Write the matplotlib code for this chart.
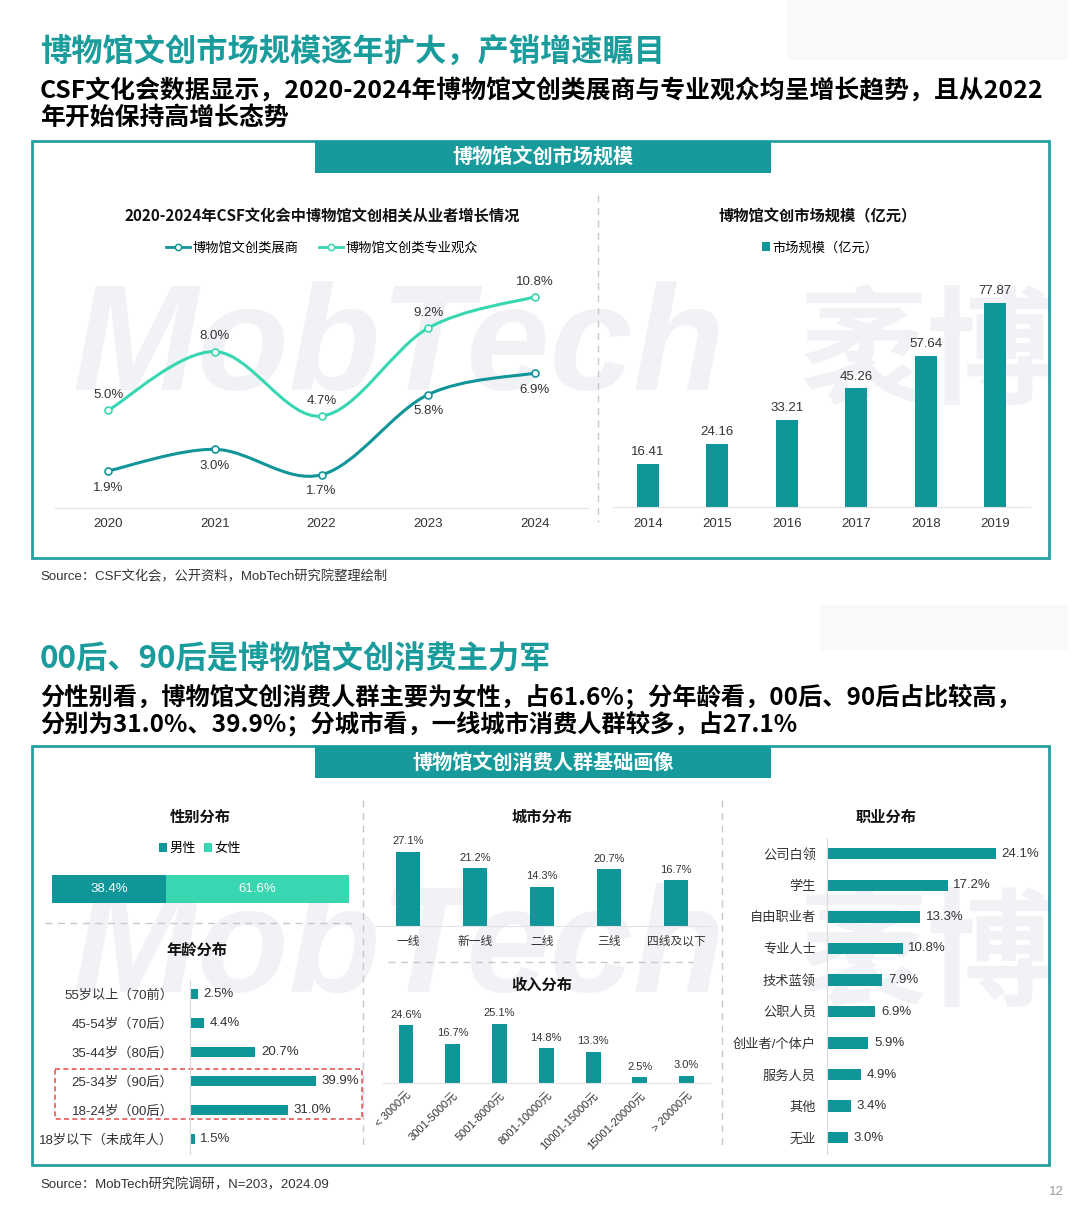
import matplotlib
matplotlib.use('Agg')
import matplotlib.pyplot as plt
from matplotlib.path import Path
from matplotlib.patches import PathPatch, Rectangle
from matplotlib.lines import Line2D
import numpy as np

plt.rcParams['font.family'] = ['Liberation Sans', 'Noto Sans CJK SC', 'DejaVu Sans']

# ---- data ----
years_line = ['2020', '2021', '2022', '2023', '2024']
exhibitors = [1.9, 3.0, 1.7, 5.8, 6.9]
visitors = [5.0, 8.0, 4.7, 9.2, 10.8]
line_names = ['博物馆文创类展商', '博物馆文创类专业观众']

years_bar = ['2014', '2015', '2016', '2017', '2018', '2019']
market = [16.41, 24.16, 33.21, 45.26, 57.64, 77.87]

gender_labels = ['男性', '女性']
gender_share = [38.4, 61.6]

age_labels = ['55岁以上（70前）', '45-54岁（70后）', '35-44岁（80后）',
              '25-34岁（90后）', '18-24岁（00后）', '18岁以下（未成年人）']
age_share = [2.5, 4.4, 20.7, 39.9, 31.0, 1.5]

city_labels = ['一线', '新一线', '二线', '三线', '四线及以下']
city_share = [27.1, 21.2, 14.3, 20.7, 16.7]

income_labels = ['< 3000元', '3001-5000元', '5001-8000元', '8001-10000元',
                 '10001-15000元', '15001-20000元', '> 20000元']
income_share = [24.6, 16.7, 25.1, 14.8, 13.3, 2.5, 3.0]

job_labels = ['公司白领', '学生', '自由职业者', '专业人士', '技术蓝领',
              '公职人员', '创业者/个体户', '服务人员', '其他', '无业']
job_share = [24.1, 17.2, 13.3, 10.8, 7.9, 6.9, 5.9, 4.9, 3.4, 3.0]

DARK = '#109599'
LIGHT = '#38D7B1'
TEAL = '#1A9C9C'
FRAME = '#22A1A1'
GRID = '#D9D9D9'
TXT = '#333333'
CJK = ['Noto Sans CJK SC']

W, H = 1080, 1214
fig = plt.figure(figsize=(W / 100, H / 100), dpi=100)

bg = fig.add_axes([0, 0, 1, 1])
bg.set_xlim(0, W)
bg.set_ylim(H, 0)
bg.axis('off')


def add_ax(x0, y0, x1, y1):
    ax = fig.add_axes([x0 / W, 1 - y1 / H, (x1 - x0) / W, (y1 - y0) / H])
    ax.patch.set_alpha(0)
    for s in ax.spines.values():
        s.set_visible(False)
    return ax


def smooth_path(xs, ys):
    pts = np.column_stack([xs, ys]).astype(float)
    ext = np.vstack([pts[0], pts, pts[-1]])
    verts, codes = [pts[0]], [Path.MOVETO]
    for i in range(len(pts) - 1):
        p0, p1, p2, p3 = ext[i], ext[i + 1], ext[i + 2], ext[i + 3]
        verts += [p1 + (p2 - p0) / 6, p2 - (p3 - p1) / 6, p2]
        codes += [Path.CURVE4] * 3
    return Path(verts, codes)


def fig_xy(x, y):
    return (x / W, 1 - y / H)


# ---- watermark ----
wm = '#F1F2F5'
for y in (390, 992):
    bg.text(72, y, 'MobTech', fontsize=108, fontweight='bold', style='italic',
            color=wm, va='baseline', ha='left', zorder=0)
    bg.text(800, y + 4, '袤博', fontsize=92, fontweight='bold', family=CJK,
            color=wm, va='baseline', ha='left', zorder=0)

# faint scan artifacts at top right
bg.add_patch(Rectangle((787, 0), 281, 60, color='#F9F9F9', lw=0, zorder=0))
bg.add_patch(Rectangle((820, 605), 248, 45, color='#F9F9F9', lw=0, zorder=0))

# ---- headings ----
bg.text(40, 52, '博物馆文创市场规模逐年扩大，产销增速瞩目', fontsize=22.5,
        fontweight='bold', color=TEAL, family=CJK, va='center')
bg.text(40, 90, 'CSF文化会数据显示，2020-2024年博物馆文创类展商与专业观众均呈增长趋势，且从2022',
        fontsize=17.9, fontweight='bold', color='black', family=CJK, va='center')
bg.text(40, 118, '年开始保持高增长态势', fontsize=17.9, fontweight='bold',
        color='black', family=CJK, va='center')

bg.text(40, 658, '00后、90后是博物馆文创消费主力军', fontsize=22.5,
        fontweight='bold', color=TEAL, family=CJK, va='center')
bg.text(40, 697, '分性别看，博物馆文创消费人群主要为女性，占61.6%；分年龄看，00后、90后占比较高，',
        fontsize=17.5, fontweight='bold', color='black', family=CJK, va='center')
bg.text(40, 724, '分别为31.0%、39.9%；分城市看，一线城市消费人群较多，占27.1%',
        fontsize=17.5, fontweight='bold', color='black', family=CJK, va='center')

# ---- frames, banners, separators ----
for top, bottom, title in [(141, 558, '博物馆文创市场规模'),
                           (746, 1165, '博物馆文创消费人群基础画像')]:
    bg.add_patch(Rectangle((32, top), 1017, bottom - top, fill=False,
                           edgecolor=FRAME, lw=2, zorder=1))
    bg.add_patch(Rectangle((315, top), 456, 32, color='#169A9B', lw=0, zorder=1))
    bg.text(543, top + 16, title, fontsize=14.5, fontweight='bold', color='white',
            family=CJK, ha='center', va='center', zorder=2)

dash = dict(color='#C8C8C8', lw=1, ls=(0, (5, 4)), zorder=1)
bg.plot([598, 598], [195, 522], **dash)
bg.plot([363, 363], [800, 1150], **dash)
bg.plot([722, 722], [800, 1150], **dash)
bg.plot([45, 352], [923, 923], **dash)
bg.plot([388, 693], [962, 962], **dash)
bg.add_patch(Rectangle((55, 1069), 307, 50, fill=False, edgecolor='#E05A5A',
                       lw=1.2, ls=(0, (3, 2)), zorder=1))

bg.text(40, 577, 'Source：CSF文化会，公开资料，MobTech研究院整理绘制',
        fontsize=9.5, color=TXT, va='center')
bg.text(40, 1185, 'Source：MobTech研究院调研，N=203，2024.09',
        fontsize=9.5, color=TXT, va='center')
bg.text(1056, 1192, '12', fontsize=9.5, color='#999999', ha='center', va='center')

# sub-chart titles
for x, y, s in [(322, 216, '2020-2024年CSF文化会中博物馆文创相关从业者增长情况'),
                (818, 216, '博物馆文创市场规模（亿元）'),
                (200, 817, '性别分布'), (197, 950, '年龄分布'),
                (542, 817, '城市分布'), (542, 985, '收入分布'),
                (886, 817, '职业分布')]:
    bg.text(x, y, s, fontsize=11, fontweight='bold', family=CJK, color='#111111',
            ha='center', va='center')

# ---- line chart ----
ax1 = add_ax(55, 280, 588, 508)
x = np.arange(len(years_line))
for vals, col, off in [(exhibitors, DARK, -12), (visitors, LIGHT, 11)]:
    ax1.add_patch(PathPatch(smooth_path(x, vals), fill=False, edgecolor=col,
                            lw=2.2, capstyle='round'))
    ax1.plot(x, vals, 'o', ms=5, mfc='white', mec=col, mew=1.2, zorder=3)
    for xi, v in zip(x, vals):
        ax1.annotate(f'{v:.1f}%', (xi, v), xytext=(0, off), textcoords='offset points',
                     ha='center', va='center', fontsize=9.5, color=TXT)
ax1.set_xlim(-0.5, 4.5)
ax1.set_ylim(0, 11.66)
ax1.set_xticks(x, labels=years_line)
ax1.set_yticks([])
ax1.spines['bottom'].set_visible(True)
ax1.spines['bottom'].set_color('#E3E3E3')
ax1.tick_params(axis='x', length=0, pad=7.5, labelsize=9.5, labelcolor=TXT)
handles = [Line2D([], [], color=c, lw=2, marker='o', ms=4.5, mfc='white', mec=c, mew=1.1)
           for c in (DARK, LIGHT)]
fig.legend(handles, line_names, loc='center', bbox_to_anchor=fig_xy(322, 248),
           ncol=2, frameon=False, fontsize=9.5, handlelength=1.8,
           handletextpad=0.2, columnspacing=1.6)

# ---- market size bars ----
ax2 = add_ax(613, 280, 1030, 507)
xb = np.arange(len(years_bar))
bars = ax2.bar(xb, market, width=0.32, color=DARK, label='市场规模（亿元）')
ax2.bar_label(bars, fmt='%.2f', padding=4, fontsize=9.5, color=TXT)
ax2.set_xlim(-0.5, 5.5)
ax2.set_ylim(0, 86.6)
ax2.set_xticks(xb, labels=years_bar)
ax2.set_yticks([])
ax2.spines['bottom'].set_visible(True)
ax2.spines['bottom'].set_color('#E3E3E3')
ax2.tick_params(axis='x', length=0, pad=8, labelsize=9.5, labelcolor=TXT)
fig.legend(handles=[bars], loc='center', bbox_to_anchor=fig_xy(820, 248),
           frameon=False, fontsize=9.5, handlelength=0.6, handleheight=0.6,
           handletextpad=0.2)

# ---- gender ----
ax3 = add_ax(52, 875, 349, 903)
left = 0
gh = []
for lab, v, c in zip(gender_labels, gender_share, (DARK, LIGHT)):
    r = ax3.barh(0, v, left=left, height=1, color=c, label=lab)
    ax3.bar_label(r, labels=[f'{v:.1f}%'], label_type='center', color='white', fontsize=9.5)
    gh.append(r)
    left += v
ax3.set_xlim(0, 100)
ax3.set_ylim(-0.5, 0.5)
ax3.axis('off')
fig.legend(handles=gh, loc='center', bbox_to_anchor=fig_xy(200, 849), ncol=2,
           frameon=False, fontsize=9.5, handlelength=0.6, handleheight=0.6,
           handletextpad=0.2, columnspacing=0.6)


def hbars(ax, labels, vals, xmax, pad):
    yy = np.arange(len(labels))
    r = ax.barh(yy, vals, height=0.36, color=DARK)
    ax.bar_label(r, labels=[f'{v:.1f}%' for v in vals], padding=4, fontsize=9.5, color=TXT)
    ax.set_ylim(len(labels) - 0.5, -0.5)
    ax.set_xlim(0, xmax)
    ax.set_yticks(yy, labels=labels)
    ax.set_xticks([])
    ax.spines['left'].set_visible(True)
    ax.spines['left'].set_color(GRID)
    ax.tick_params(axis='y', length=0, pad=pad, labelsize=9.5, labelcolor=TXT)


# ---- age ----
ax4 = add_ax(190, 979.5, 362, 1153.5)
hbars(ax4, age_labels, age_share, 54.4, 12)

# ---- occupation ----
ax7 = add_ax(827, 838, 1045, 1153.5)
hbars(ax7, job_labels, job_share, 31.1, 8)


def vbars(ax, labels, vals, width, ymax):
    xx = np.arange(len(labels))
    r = ax.bar(xx, vals, width=width, color=DARK)
    ax.bar_label(r, labels=[f'{v:.1f}%' for v in vals], padding=4, fontsize=8, color=TXT)
    ax.set_xlim(-0.5, len(labels) - 0.5)
    ax.set_ylim(0, ymax)
    ax.set_yticks([])
    ax.spines['bottom'].set_visible(True)
    ax.spines['bottom'].set_color('#E3E3E3')
    return xx


# ---- city ----
ax5 = add_ax(374.5, 840, 709.5, 926)
xc = vbars(ax5, city_labels, city_share, 0.36, 31.5)
ax5.set_xticks(xc, labels=city_labels)
ax5.tick_params(axis='x', length=0, pad=7, labelsize=8.5, labelcolor=TXT)

# ---- income ----
ax6 = add_ax(382.6, 1000, 710, 1083)
xi = vbars(ax6, income_labels, income_share, 0.32, 35.3)
ax6.set_xticks(xi)
ax6.set_xticklabels(income_labels, rotation=45, ha='right', va='top',
                    rotation_mode='anchor')
ax6.tick_params(axis='x', length=0, pad=5, labelsize=8, labelcolor=TXT)

fig.savefig('out.png', dpi=100)
